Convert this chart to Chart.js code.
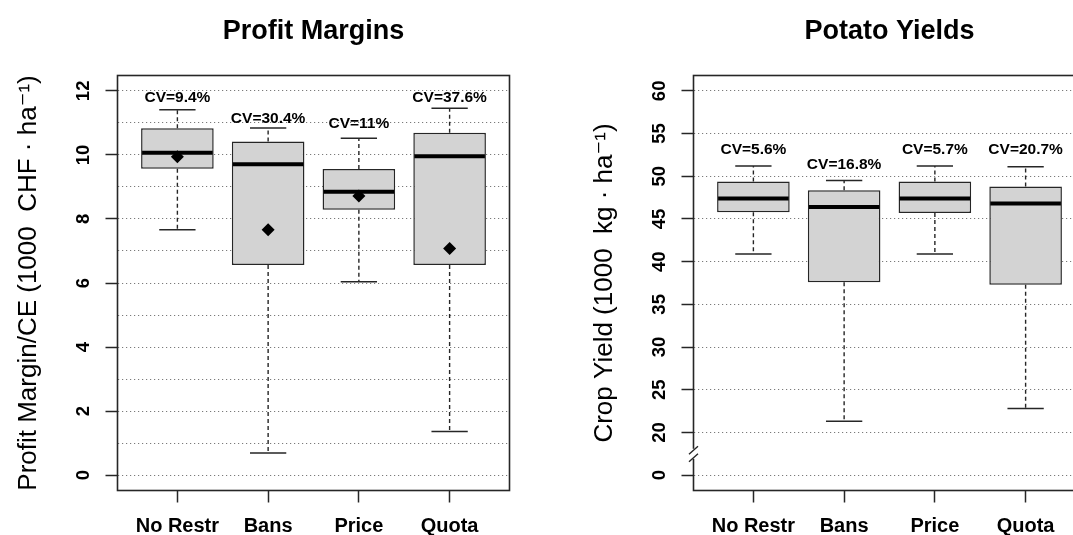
<!DOCTYPE html>
<html lang="en">
<head>
<meta charset="UTF-8">
<title>Profit Margins and Potato Yields</title>
<script src="https://cdn.jsdelivr.net/npm/chart.js@4"></script>
<style>
  html, body { margin: 0; padding: 0; background: #fff; overflow: hidden; }
  body { width: 1073px; height: 535px; position: relative; }
  canvas { position: absolute; top: 0; }
  #profitChart { left: 0; }
  #yieldChart { left: 576px; }
</style>
</head>
<body>
<canvas id="profitChart" width="560" height="535"></canvas>
<canvas id="yieldChart" width="560" height="535"></canvas>

<script>
const categories = ['No Restr', 'Bans', 'Price', 'Quota'];

// Profit margin / CE (1000 CHF per ha)
const profitLow    = [7.66, 0.69, 6.04, 1.36];
const profitQ1     = [9.57, 6.56, 8.29, 6.56];
const profitMedian = [10.07, 9.71, 8.85, 9.96];
const profitQ3     = [10.83, 10.42, 9.56, 10.69];
const profitHigh   = [11.41, 10.84, 10.52, 11.46];
const profitMean   = [9.94, 7.66, 8.72, 7.08];
const profitCV     = ['CV=9.4%', 'CV=30.4%', 'CV=11%', 'CV=37.6%'];
const profitCVAt   = [11.78, 11.14, 10.98, 11.78];
const profitGrid   = [0, 1, 2, 3, 4, 5, 6, 7, 8, 9, 10, 11, 12];
const profitTicks  = [0, 2, 4, 6, 8, 10, 12];
const profitLabels = ['0', '2', '4', '6', '8', '10', '12'];

// Crop yield (1000 kg per ha), axis broken below 20: "0" sits at 15
const yieldLow    = [40.9, 21.3, 40.9, 22.8];
const yieldQ1     = [45.8, 37.6, 45.7, 37.3];
const yieldMedian = [47.4, 46.4, 47.4, 46.8];
const yieldQ3     = [49.4, 48.35, 49.4, 48.8];
const yieldHigh   = [51.2, 49.5, 51.2, 51.1];
const yieldCV     = ['CV=5.6%', 'CV=16.8%', 'CV=5.7%', 'CV=20.7%'];
const yieldCVAt   = [53.1, 51.35, 53.1, 53.1];
const yieldGrid   = [15, 20, 25, 30, 35, 40, 45, 50, 55, 60];
const yieldTicks  = [15, 20, 25, 30, 35, 40, 45, 50, 55, 60];
const yieldLabels = ['0', '20', '25', '30', '35', '40', '45', '50', '55', '60'];
const yieldBreakAt = 17.5;

const FONT = "'Liberation Sans', Arial, Helvetica, 'DejaVu Sans', sans-serif";
const INK = '#262626';

function boxExtras(s) {
  return {
    id: 'boxExtras',
    afterDatasetDraw(chart, args) {
      if (args.index !== 0) return;
      const { ctx } = chart;
      const x = chart.scales.x, y = chart.scales.y;
      ctx.save();
      args.meta.data.forEach((bar, i) => {
        const px = x.getPixelForValue(i + 1);
        const half = bar.width / 2;
        // dashed whiskers
        ctx.strokeStyle = INK;
        ctx.lineWidth = 1.4;
        ctx.setLineDash([4, 3]);
        ctx.beginPath();
        ctx.moveTo(px, y.getPixelForValue(s.q3[i]));
        ctx.lineTo(px, y.getPixelForValue(s.high[i]));
        ctx.moveTo(px, y.getPixelForValue(s.q1[i]));
        ctx.lineTo(px, y.getPixelForValue(s.low[i]));
        ctx.stroke();
        ctx.setLineDash([]);
        // staples
        ctx.lineWidth = 1.5;
        ctx.beginPath();
        [s.high[i], s.low[i]].forEach(v => {
          const py = y.getPixelForValue(v);
          ctx.moveTo(px - half / 2, py);
          ctx.lineTo(px + half / 2, py);
        });
        ctx.stroke();
        // median
        ctx.strokeStyle = '#000';
        ctx.lineWidth = 4;
        ctx.beginPath();
        const pm = y.getPixelForValue(s.median[i]);
        ctx.moveTo(px - half + 1, pm);
        ctx.lineTo(px + half - 1, pm);
        ctx.stroke();
        // CV label
        ctx.fillStyle = '#000';
        ctx.font = 'bold 15.5px ' + FONT;
        ctx.textAlign = 'center';
        ctx.textBaseline = 'middle';
        ctx.fillText(s.cv[i], px, y.getPixelForValue(s.cvAt[i]));
      });
      ctx.restore();
    },
    afterDatasetsDraw(chart) {
      const { ctx, chartArea: a } = chart;
      ctx.save();
      ctx.strokeStyle = INK;
      ctx.lineWidth = 1.6;
      ctx.strokeRect(a.left, a.top, a.right - a.left, a.bottom - a.top);
      if (s.breakAt !== undefined) {
        const py = chart.scales.y.getPixelForValue(s.breakAt);
        ctx.fillStyle = '#fff';
        ctx.fillRect(a.left - 2, py - 5, 4, 10);
        ctx.lineWidth = 1.4;
        ctx.beginPath();
        ctx.moveTo(a.left - 4.5, py + 0.5);
        ctx.lineTo(a.left + 4.5, py - 7.5);
        ctx.moveTo(a.left - 4.5, py + 8);
        ctx.lineTo(a.left + 4.5, py);
        ctx.stroke();
      }
      ctx.restore();
    }
  };
}

function boxChart(canvasId, s) {
  const datasets = [{
    type: 'bar',
    data: categories.map((c, i) => ({ x: i + 1, y: [s.q1[i], s.q3[i]] })),
    backgroundColor: '#d3d3d3',
    borderColor: INK,
    borderWidth: 1.5,
    borderSkipped: false,
    barPercentage: 0.8,
    categoryPercentage: 1,
    order: 2
  }];
  if (s.mean) {
    datasets.push({
      type: 'scatter',
      data: s.mean.map((m, i) => ({ x: i + 1, y: m })),
      pointStyle: 'rectRot',
      pointRadius: 6.5,
      backgroundColor: '#000',
      borderWidth: 0,
      order: 1
    });
  }
  return new Chart(document.getElementById(canvasId), {
    type: 'bar',
    data: { datasets },
    plugins: [boxExtras(s)],
    options: {
      responsive: false,
      animation: false,
      layout: { padding: { left: 0, right: 50.5, top: 0, bottom: 0 } },
      plugins: {
        legend: { display: false },
        tooltip: { enabled: false },
        title: {
          display: true,
          text: s.title,
          fullSize: false,
          color: '#000',
          font: { family: FONT, size: 27, weight: 'bold' },
          padding: { top: 15.4, bottom: 27.7 }
        }
      },
      scales: {
        x: {
          type: 'linear',
          min: 0.34,
          max: 4.66,
          offset: false,
          afterBuildTicks: axis => { axis.ticks = categories.map((c, i) => ({ value: i + 1 })); },
          afterFit: axis => { axis.height = 44.5; },
          border: { display: false },
          grid: { offset: false, drawOnChartArea: false, tickLength: 12, tickColor: INK, tickWidth: 1.5 },
          ticks: {
            autoSkip: false,
            maxRotation: 0,
            padding: 12,
            color: '#000',
            font: { family: FONT, size: 20, weight: 'bold' },
            callback: v => categories[v - 1]
          }
        },
        y: {
          min: s.min,
          max: s.max,
          afterBuildTicks: axis => { axis.ticks = s.grid.map(v => ({ value: v })); },
          afterFit: axis => { axis.width = 117.5; },
          border: { display: false, dash: [1.2, 2.8] },
          grid: {
            color: '#7a7a7a',
            lineWidth: 1,
            tickLength: 12,
            tickWidth: 1.5,
            tickBorderDash: [],
            tickColor: c => s.ticks.includes(c.tick.value) ? INK : 'rgba(0,0,0,0)'
          },
          ticks: {
            autoSkip: false,
            minRotation: 90,
            maxRotation: 90,
            crossAlign: 'center',
            padding: 11,
            color: '#000',
            font: { family: FONT, size: 18.5, weight: 'bold' },
            callback: v => {
              const k = s.ticks.indexOf(v);
              return k < 0 ? '' : s.labels[k];
            }
          },
          title: {
            display: true,
            text: s.yTitle,
            color: '#000',
            font: { family: FONT, size: 26 },
            padding: { top: 13.4, bottom: 0 }
          }
        }
      }
    }
  });
}

boxChart('profitChart', {
  title: 'Profit Margins',
  yTitle: 'Profit Margin/CE (1000  CHF \u00b7 ha\u207b\u00b9)',
  min: -0.48, max: 12.48,
  low: profitLow, q1: profitQ1, median: profitMedian, q3: profitQ3, high: profitHigh,
  mean: profitMean, cv: profitCV, cvAt: profitCVAt,
  grid: profitGrid, ticks: profitTicks, labels: profitLabels
});

boxChart('yieldChart', {
  title: 'Potato Yields',
  yTitle: 'Crop Yield (1000  kg \u00b7 ha\u207b\u00b9)',
  min: 13.2, max: 61.8,
  low: yieldLow, q1: yieldQ1, median: yieldMedian, q3: yieldQ3, high: yieldHigh,
  cv: yieldCV, cvAt: yieldCVAt,
  grid: yieldGrid, ticks: yieldTicks, labels: yieldLabels,
  breakAt: yieldBreakAt
});
</script>
</body>
</html>
